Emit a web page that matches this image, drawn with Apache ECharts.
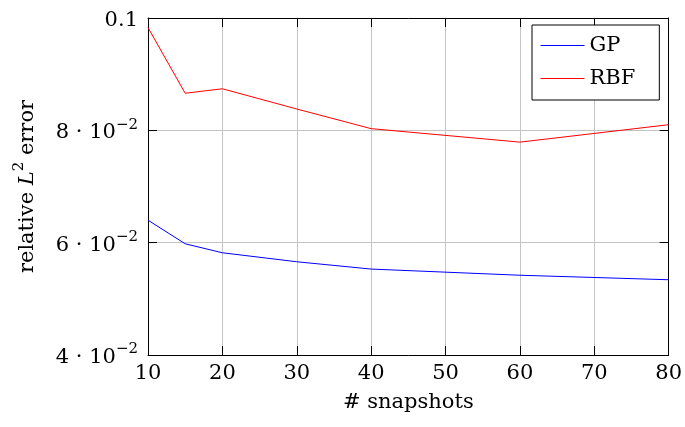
<!DOCTYPE html>
<html>
<head>
<meta charset="utf-8">
<script src="https://cdn.jsdelivr.net/npm/echarts@6/dist/echarts.min.js"></script>
<style>html,body{margin:0;padding:0;background:#fff}#c{width:685px;height:427px}</style>
</head>
<body>
<div id="c"></div>
<script>
var snapshots = [10, 15, 20, 30, 40, 60, 80];
var gpError = [0.0640, 0.0598, 0.0582, 0.0566, 0.0553, 0.0542, 0.0534];
var rbfError = [0.0983, 0.0866, 0.0874, 0.0838, 0.0803, 0.0779, 0.0810];
var xTicks = [10, 20, 30, 40, 50, 60, 70, 80];
var yTicks = [0.04, 0.06, 0.08, 0.1];
var seriesNames = ['GP', 'RBF'];
var seriesColors = ['#0000ff', '#ff0000'];

var FONT = 'DejaVu Serif';
var FS = 21;
function pairs(xs, ys){ return xs.map(function(x,i){ return [x, ys[i]]; }); }

var chart = echarts.init(document.getElementById('c'));
var tickStyle = {inside: true, length: 9, lineStyle: {color: '#000', width: 1}};
var axisLine = {show: true, lineStyle: {color: '#000', width: 1}};
chart.setOption({
  animation: false,
  backgroundColor: '#fff',
  color: seriesColors,
  grid: {left: 148, right: 15, top: 18, bottom: 72, containLabel: false},
  legend: {
    orient: 'vertical', left: 532, top: 25,
    padding: [10, 24, 11, 8], itemGap: 12,
    borderColor: '#000', borderWidth: 1, backgroundColor: '#fff',
    itemWidth: 44, itemHeight: 1,
    lineStyle: {width: 1},
    textStyle: {fontFamily: FONT, fontSize: FS, color: '#000'},
    data: seriesNames
  },
  xAxis: [{
    type: 'value', min: xTicks[0], max: xTicks[xTicks.length-1], interval: 10,
    axisLine: axisLine, axisTick: tickStyle,
    axisLabel: {fontFamily: FONT, fontSize: FS, color: '#000', margin: 8},
    splitLine: {show: true, lineStyle: {color: '#c4c4c4', width: 1}},
    name: '# snapshots', nameLocation: 'middle', nameGap: 37,
    nameTextStyle: {fontFamily: FONT, fontSize: FS, color: '#000'}
  }, {
    type: 'value', position: 'top', min: xTicks[0], max: xTicks[xTicks.length-1], interval: 10,
    axisLine: axisLine, axisTick: tickStyle, axisLabel: {show: false}, splitLine: {show: false}
  }],
  yAxis: [{
    type: 'value', min: yTicks[0], max: yTicks[yTicks.length-1], interval: 0.02,
    axisLine: axisLine, axisTick: tickStyle,
    splitLine: {show: true, lineStyle: {color: '#c4c4c4', width: 1}},
    axisLabel: {
      margin: 10,
      formatter: function(v){
        var k = Math.round(v * 100);
        if (k === 10) return '{n|0.1}';
        return '{n|' + k + ' · 10}{s|−2}';
      },
      rich: {
        n: {fontFamily: FONT, fontSize: FS, color: '#000', lineHeight: 26, verticalAlign: 'bottom'},
        s: {fontFamily: FONT, fontSize: 15, color: '#000', lineHeight: 15, verticalAlign: 'top'}
      }
    },
    name: '{n|relative }{i|L}{s|2}{n| error}', nameLocation: 'middle', nameGap: 110,
    nameTextStyle: {
      rich: {
        n: {fontFamily: FONT, fontSize: FS, color: '#000', lineHeight: 26, verticalAlign: 'bottom'},
        i: {fontFamily: FONT, fontSize: FS, color: '#000', fontStyle: 'italic', lineHeight: 26, verticalAlign: 'bottom'},
        s: {fontFamily: FONT, fontSize: 15, color: '#000', lineHeight: 15, verticalAlign: 'top'}
      }
    }
  }, {
    type: 'value', position: 'right', min: yTicks[0], max: yTicks[yTicks.length-1], interval: 0.02,
    axisLine: axisLine, axisTick: tickStyle, axisLabel: {show: false}, splitLine: {show: false}
  }],
  series: [{
    name: seriesNames[0], type: 'line', data: pairs(snapshots, gpError), symbol: 'none',
    color: seriesColors[0], lineStyle: {color: seriesColors[0], width: 1}, itemStyle: {color: seriesColors[0]}
  }, {
    name: seriesNames[1], type: 'line', data: pairs(snapshots, rbfError), symbol: 'none',
    color: seriesColors[1], lineStyle: {color: seriesColors[1], width: 1}, itemStyle: {color: seriesColors[1]}
  }]
});
</script>
</body>
</html>
